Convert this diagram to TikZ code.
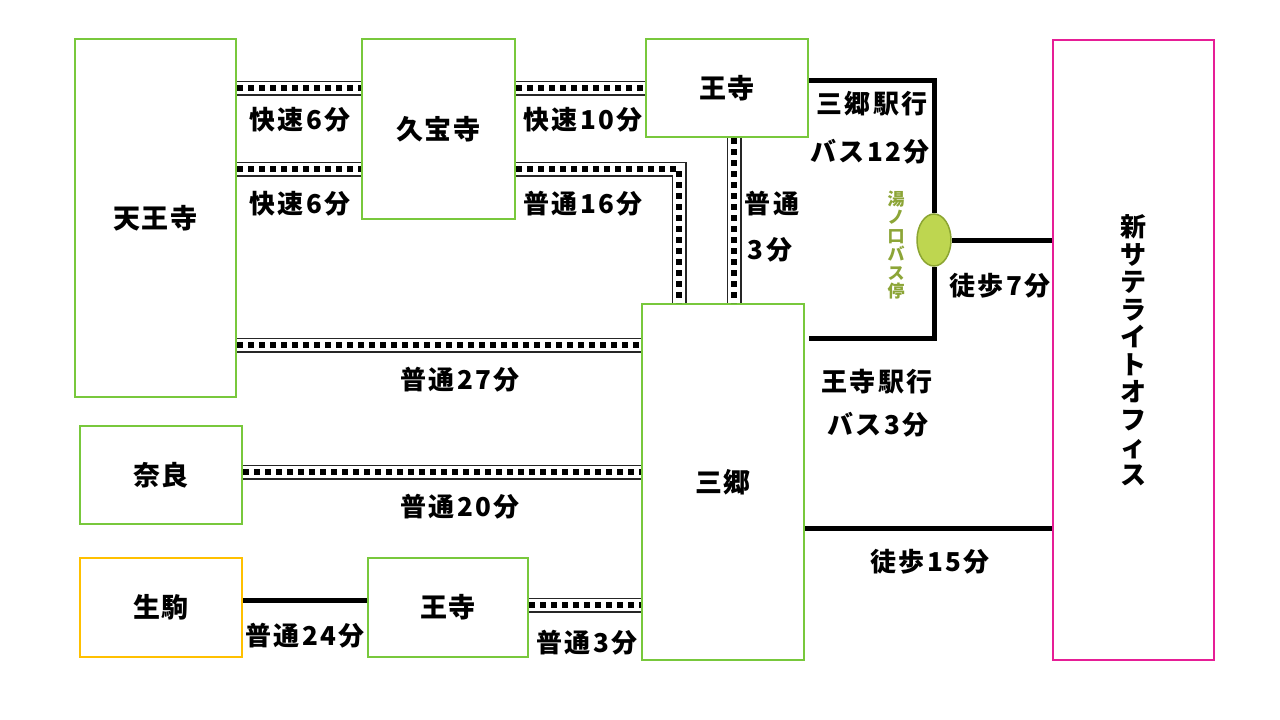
\documentclass[tikz,border=0pt]{standalone}
\usepackage{fontspec}
\usetikzlibrary{shapes.geometric}
\setmainfont{Noto Sans CJK JP}
\newfontfamily\lblfont{Noto Sans CJK JP}[LetterSpace=9]
\newfontfamily\boxfont{Noto Sans CJK JP}[LetterSpace=6]
\definecolor{gbox}{RGB}{120,200,60}
\definecolor{mag}{RGB}{230,30,150}
\definecolor{yel}{RGB}{255,192,0}
\definecolor{stopfill}{RGB}{190,214,80}
\definecolor{stopline}{RGB}{140,165,50}
\definecolor{stoptext}{RGB}{140,165,55}
\newcommand\myrail[1]{\draw[railbg] #1; \draw[railfg] #1;}
\begin{document}
\begin{tikzpicture}[x=1pt,y=-1pt,
  stbox/.style={draw=gbox, line width=2pt, inner sep=0pt, font=\boxfont\bfseries\fontsize{27}{30}\selectfont},
  lbl/.style={inner sep=0pt, font=\lblfont\bfseries\fontsize{26}{29}\selectfont},
  railbg/.style={draw=black!85, line width=1.5pt, double=white, double distance=12pt},
  railfg/.style={draw, line width=6pt, dash pattern=on 6pt off 5pt},
  solid5/.style={draw, line width=5pt}]
\useasboundingbox (0,0) rectangle (1280,720);
\fill[white] (0,0) rectangle (1280,720);
% stations
\node[stbox, minimum width=161, minimum height=358] (tennoji) at (155.5,218) {天王寺};
\node[stbox, minimum width=153, minimum height=180] (kyu) at (438.5,129) {久宝寺};
\node[stbox, minimum width=162, minimum height=98] (ojitop) at (727,88) {王寺};
\node[stbox, minimum width=162, minimum height=356] (misato) at (723,482) {三郷};
\node[stbox, minimum width=162, minimum height=98] (nara) at (161,475) {奈良};
\node[stbox, draw=yel, minimum width=162, minimum height=99] (ikoma) at (161,607.5) {生駒};
\node[stbox, minimum width=160, minimum height=99] (ojibot) at (448,607.5) {王寺};
\node[stbox, draw=mag, minimum width=161, minimum height=620, align=center,
  font=\bfseries\fontsize{26}{27.5}\selectfont] (office) at (1133.5,350)
  {新\\サ\\テ\\ラ\\イ\\ト\\オ\\フ\\ィ\\ス};
% bus stop
\node[ellipse, draw=stopline, line width=1.5pt, fill=stopfill, minimum width=34, minimum height=52, inner sep=0pt] (stop) at (934,240) {};
\node[align=center, inner sep=0pt, text=stoptext, font=\bfseries\fontsize{17}{18.5}\selectfont] (stoplbl) at (896,245) {湯\\ノ\\口\\バ\\ス\\停};
% rails
\myrail{(tennoji.east |- 0,88) -- (kyu.west |- 0,88)}
\myrail{(tennoji.east |- 0,169) -- (kyu.west |- 0,169)}
\myrail{(kyu.east |- 0,88) -- (ojitop.west |- 0,88)}
\myrail{(kyu.east |- 0,169) -| (misato.north -| 679,0)}
\myrail{(ojitop.south -| 734,0) -- (misato.north -| 734,0)}
\myrail{(tennoji.east |- 0,345) -- (misato.west |- 0,345)}
\myrail{(nara.east |- 0,472) -- (misato.west |- 0,472)}
\myrail{(ojibot.east |- 0,605) -- (misato.west |- 0,605)}
% solid lines
\draw[solid5] (ikoma.east |- 0,600) -- (ojibot.west |- 0,600);
\draw[solid5] (ojitop.east |- 0,80) -| (stop.north);
\draw[solid5] (stop.east) -- (office.west |- stop.east);
\draw[solid5] (stop.south) |- (ojitop.east |- 0,338);
\draw[solid5] (misato.east |- 0,528) -- (office.west |- 0,528);
% labels
\node[lbl] (l1) at (300,120) {快速6分};
\node[lbl] (l2) at (300,204) {快速6分};
\node[lbl] (l3) at (583,120) {快速10分};
\node[lbl] (l4) at (583,204) {普通16分};
\node[lbl] (l5) at (772,204) {普通};
\node[lbl] (l6) at (770,250) {3分};
\node[lbl] (l7) at (872,104) {三郷駅行};
\node[lbl] (l8) at (870,152) {バス12分};
\node[lbl] (l9) at (1000,286) {徒歩7分};
\node[lbl] (l10) at (877,382) {王寺駅行};
\node[lbl] (l11) at (878,425) {バス3分};
\node[lbl] (l12) at (460,380) {普通27分};
\node[lbl] (l13) at (460,507) {普通20分};
\node[lbl] (l14) at (930,562) {徒歩15分};
\node[lbl] (l15) at (305,636) {普通24分};
\node[lbl] (l16) at (587,643) {普通3分};
\end{tikzpicture}
\end{document}
